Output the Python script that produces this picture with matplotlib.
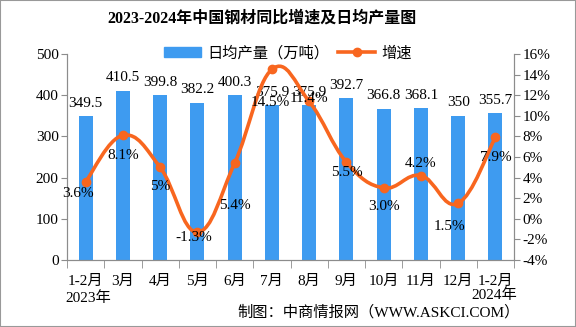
import numpy as np
import matplotlib.pyplot as plt
from matplotlib.path import Path
from matplotlib.patches import PathPatch, Rectangle
from matplotlib.lines import Line2D

plt.rcParams['font.family'] = ['Liberation Serif', 'Noto Sans CJK SC', 'DejaVu Sans']

# 数据
months = ['1-2月', '3月', '4月', '5月', '6月', '7月', '8月', '9月', '10月', '11月', '12月', '1-2月']
output = [349.5, 410.5, 399.8, 382.2, 400.3, 375.9, 375.9, 392.7, 366.8, 368.1, 350, 355.7]
growth = [3.6, 8.1, 5.0, -1.3, 5.4, 14.5, 11.4, 5.5, 3.0, 4.2, 1.5, 7.9]
output_labels = ['349.5', '410.5', '399.8', '382.2', '400.3', '375.9', '375.9', '392.7', '366.8', '368.1', '350', '355.7']
growth_labels = ['3.6%', '8.1%', '5%', '-1.3%', '5.4%', '14.5%', '11.4%', '5.5%', '3.0%', '4.2%', '1.5%', '7.9%']
# 增速标签偏移 (像素)
growth_off = [(-8, -12), (0, -20), (0, -19), (-4, -5), (0, -42), (-2, -33),
              (0, 3), (0, -10), (0, -19), (0, 12), (-9, -23), (0, -20)]

blue = '#3E9BF0'
orange = '#F8661F'
gray = '#8C8C8C'

fig = plt.figure(figsize=(5.76, 3.27), dpi=100)
ax = fig.add_axes([67 / 576, 67 / 327, 447 / 576, 206 / 327])
ax2 = ax.twinx()

x = np.arange(len(months))
ax.bar(x, output, width=0.38, color=blue, zorder=2)
ax.set_xlim(-0.5, len(months) - 0.5)
ax.set_ylim(0, 500)
ax.set_yticks([0, 100, 200, 300, 400, 500])
ax2.set_ylim(-4, 16)
ax2.set_yticks(range(-4, 17, 2))
ax2.set_yticklabels([f'{v}%' for v in range(-4, 17, 2)])

# 平滑曲线
pts = np.column_stack([x, growth]).astype(float)
k = 0.2
verts = [pts[0]]
codes = [Path.MOVETO]
for i in range(len(pts) - 1):
    p0 = pts[max(i - 1, 0)]
    p1 = pts[i]
    p2 = pts[i + 1]
    p3 = pts[min(i + 2, len(pts) - 1)]
    verts += [p1 + (p2 - p0) * k, p2 - (p3 - p1) * k, p2]
    codes += [Path.CURVE4] * 3
ax2.add_patch(PathPatch(Path(verts, codes), facecolor='none', edgecolor=orange, lw=2.6, zorder=3))
ax2.plot(x, growth, 'o', color=orange, ms=6, zorder=4)

for xi, v, t in zip(x, output, output_labels):
    ax.annotate(t, (xi, v), xytext=(0, 13), textcoords='offset pixels',
                ha='center', va='center', fontsize=11, zorder=5)
for xi, v, t, (dx, dy) in zip(x, growth, growth_labels, growth_off):
    ax2.annotate(t, (xi, v), xytext=(dx, dy), textcoords='offset pixels',
                 ha='center', va='center', fontsize=11, zorder=5)

# 坐标轴样式
for a in (ax, ax2):
    a.spines['top'].set_visible(False)
    for s in ('left', 'right', 'bottom'):
        a.spines[s].set_color(gray)
ax.tick_params(axis='y', colors=gray, labelcolor='black', labelsize=11, length=4, pad=2)
ax2.tick_params(axis='y', colors=gray, labelcolor='black', labelsize=11, length=4, pad=2)
ax.set_xticks(x)
ax.set_xticklabels(months)
ax.set_xticks(np.arange(-0.5, len(months), 1), minor=True)
ax.tick_params(axis='x', which='major', length=0, labelsize=11, pad=11)
ax.tick_params(axis='x', which='minor', length=6, color=gray)

fig.text(88 / 576, 1 - 298 / 327, '2023年', ha='center', va='center', fontsize=11)
fig.text(517 / 576, 1 - 295 / 327, '2024年', ha='right', va='center', fontsize=11)
fig.text(520 / 576, 1 - 312 / 327, '制图：中商情报网（WWW.ASKCI.COM）', ha='right', va='center', fontsize=11)
fig.text(262 / 576, 1 - 19 / 327, '2023-2024年中国钢材同比增速及日均产量图', ha='center', va='center',
         fontsize=11.5, fontweight='bold')

handles = [Rectangle((0, 0), 1, 1, color=blue),
           Line2D([], [], color=orange, lw=2.6, marker='o', ms=6)]
fig.legend(handles, ['日均产量（万吨）', '增速'], loc='center', bbox_to_anchor=(288 / 576, 1 - 53 / 327),
           ncol=2, frameon=False, fontsize=11, handlelength=2.4, handleheight=0.6,
           columnspacing=0.6, handletextpad=0.4)

fig.patches.append(Rectangle((0, 0), 1, 1, transform=fig.transFigure, fill=False,
                             edgecolor='#999999', lw=1.5))

fig.savefig('out.png', dpi=100)
